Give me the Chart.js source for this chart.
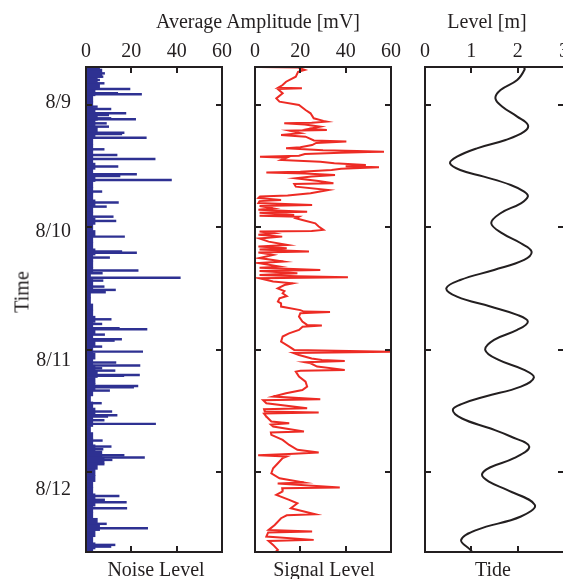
<!DOCTYPE html>
<html>
<head>
<meta charset="utf-8">
<script src="https://cdn.jsdelivr.net/npm/chart.js@4.4.0/dist/chart.umd.min.js"></script>
<style>
  body { margin: 0; width: 563px; height: 579px; overflow: hidden; background: #fff; position: relative; }
  canvas { position: absolute; top: 0; }
  .lbl { position: absolute; font: 20px "Liberation Serif", serif; color: #231f20; white-space: nowrap; transform: translate(-50%, -50%); }
</style>
</head>
<body>
<canvas id="noise" width="235" height="579" style="left:0px"></canvas>
<canvas id="signal" width="159" height="579" style="left:245px"></canvas>
<canvas id="tide" width="159" height="579" style="left:415px"></canvas>
<div class="lbl" style="left:258px; top:21px">Average Amplitude [mV]</div>
<div class="lbl" style="left:487px; top:21px">Level [m]</div>
<div class="lbl" style="left:156px; top:569px">Noise Level</div>
<div class="lbl" style="left:324px; top:569px">Signal Level</div>
<div class="lbl" style="left:493px; top:569px">Tide</div>
<div class="lbl" style="left:22px; top:292px; transform:translate(-50%,-50%) rotate(-90deg)">Time</div>
<script>
// time is in days after 8/9 00:00
const dayTicks = [0, 1, 2, 3];
const dayLabels = ['8/9', '8/10', '8/11', '8/12'];
const timeMin = -0.31;
const timeMax = 3.65;
// the date text in the original sits on a slightly stretched scale
const labelMin = -0.279;
const labelMax = 3.481;

// noise level: background level and spikes (mV)
const noiseBaseTimes = [
  -0.30, -0.25, -0.20, -0.15, -0.10, -0.05, 0.00, 0.05, 0.10, 0.15,
  0.20, 0.25, 0.30, 0.35, 0.40, 0.45, 0.50, 0.55, 0.60, 0.65,
  0.70, 0.75, 0.80, 0.85, 0.90, 0.95, 1.00, 1.05, 1.10, 1.15,
  1.20, 1.25, 1.30, 1.35, 1.40, 1.45, 1.50, 1.55, 1.60, 1.65,
  1.70, 1.75, 1.80, 1.85, 1.90, 1.95, 2.00, 2.05, 2.10, 2.15,
  2.20, 2.25, 2.30, 2.35, 2.40, 2.45, 2.50, 2.55, 2.60, 2.65,
  2.70, 2.75, 2.80, 2.85, 2.90, 2.95, 3.00, 3.05, 3.10, 3.15,
  3.20, 3.25, 3.30, 3.35, 3.40, 3.45, 3.50, 3.55, 3.60, 3.65
];
const noiseBaseValues = [
  6, 7, 5, 6, 4, 3, 3, 4, 5, 4,
  5, 4, 3, 3, 3, 3, 4, 3, 4, 3,
  3, 3, 4, 3, 3, 4, 3, 4, 3, 3,
  4, 3, 3, 3, 2, 3, 3, 2, 2, 3,
  3, 4, 3, 4, 3, 4, 3, 4, 3, 4,
  5, 4, 4, 3, 2, 3, 4, 3, 3, 2,
  3, 3, 4, 7, 8, 5, 4, 4, 3, 3,
  4, 4, 3, 3, 5, 6, 4, 3, 4, 3
];
const noiseSpikeTimes = [
  -0.286, -0.258, -0.231, -0.204, -0.177, -0.131, -0.095, -0.087, 0.014, 0.033,
  0.068, 0.082, 0.109, 0.117, 0.15, 0.177, 0.226, 0.237, 0.267, 0.362,
  0.408, 0.441, 0.503, 0.566, 0.58, 0.612, 0.707, 0.797, 0.83, 0.912,
  0.947, 1.075, 1.197, 1.206, 1.246, 1.352, 1.374, 1.41, 1.434, 1.483,
  1.51, 1.529, 1.75, 1.788, 1.823, 1.831, 1.875, 1.913, 1.924, 1.973,
  2.014, 2.103, 2.128, 2.15, 2.169, 2.204, 2.212, 2.294, 2.305, 2.332,
  2.435, 2.503, 2.533, 2.544, 2.574, 2.604, 2.74, 2.789, 2.811, 2.86,
  2.879, 2.898, 2.933, 3.192, 3.224, 3.244, 3.293, 3.42, 3.456, 3.592,
  3.606
];
const noiseSpikeValues = [
  7, 8.2, 7.5, 6, 8, 19.4, 14, 24.5, 5, 11,
  17.6, 10, 11, 21.9, 9, 10, 16.8, 15.8, 26.6, 8,
  13.7, 30.5, 14.1, 22.3, 15, 37.7, 7, 14.3, 9, 12,
  13.2, 17, 15.8, 22.3, 10.4, 23, 7.2, 41.6, 7.5, 8,
  13, 8.6, 11.1, 7, 14.7, 26.9, 8.2, 15.7, 12.5, 7,
  25, 13.2, 23.8, 7, 12.8, 23.6, 16.7, 22.9, 21, 10.4,
  6.8, 11.4, 13.7, 9.6, 8, 30.7, 7.2, 11.1, 7.5, 16.8,
  25.8, 11.5, 8, 14.6, 8.2, 17.8, 18, 9, 27.2, 12.8,
  11
];

// signal level (mV)
const signalTimes = [
  -0.31, -0.305, -0.286, -0.27, -0.231, -0.19, -0.163, -0.14, -0.136, -0.13,
  -0.095, -0.054, -0.027, 0, 0.041, 0.068, 0.109, 0.13, 0.136, 0.145,
  0.15, 0.16, 0.177, 0.195, 0.204, 0.21, 0.23, 0.245, 0.259, 0.29,
  0.299, 0.31, 0.327, 0.345, 0.354, 0.37, 0.375, 0.381, 0.385, 0.39,
  0.4, 0.415, 0.422, 0.43, 0.449, 0.463, 0.475, 0.49, 0.5, 0.509,
  0.52, 0.531, 0.545, 0.552, 0.56, 0.571, 0.585, 0.599, 0.62, 0.639,
  0.645, 0.667, 0.694, 0.721, 0.74, 0.748, 0.76, 0.776, 0.785, 0.8,
  0.816, 0.825, 0.844, 0.855, 0.871, 0.88, 0.898, 0.905, 0.912, 0.925,
  0.939, 0.966, 0.993, 1.02, 1.03, 1.034, 1.048, 1.06, 1.075, 1.09,
  1.116, 1.143, 1.155, 1.17, 1.18, 1.197, 1.205, 1.224, 1.25, 1.279,
  1.29, 1.32, 1.33, 1.347, 1.355, 1.375, 1.388, 1.398, 1.407, 1.415,
  1.442, 1.456, 1.47, 1.497, 1.52, 1.537, 1.56, 1.578, 1.605, 1.619,
  1.646, 1.675, 1.687, 1.69, 1.7, 1.728, 1.769, 1.796, 1.8, 1.81,
  1.837, 1.865, 1.891, 1.932, 1.973, 2.0, 2.014, 2.025, 2.041, 2.07,
  2.082, 2.09, 2.1, 2.109, 2.136, 2.163, 2.17, 2.177, 2.218, 2.259,
  2.299, 2.327, 2.354, 2.381, 2.403, 2.41, 2.435, 2.476, 2.485, 2.503,
  2.512, 2.52, 2.544, 2.585, 2.599, 2.61, 2.626, 2.667, 2.675, 2.694,
  2.735, 2.776, 2.816, 2.838, 2.85, 2.86, 2.87, 2.884, 2.925, 2.966,
  3.007, 3.048, 3.083, 3.09, 3.124, 3.13, 3.156, 3.184, 3.224, 3.252,
  3.293, 3.341, 3.35, 3.374, 3.429, 3.47, 3.483, 3.49, 3.524, 3.551,
  3.56, 3.592, 3.633, 3.65
];
const signalValues = [
  2, 19, 22, 19, 18, 13.7, 12.2, 10.1, 20.7, 10,
  12.2, 9.4, 10.8, 19.4, 22.3, 24.5, 25.9, 30.2, 31.7, 25,
  12.9, 22, 28.8, 24, 31.7, 15.1, 20, 11.5, 22.3, 26,
  40.3, 27, 25.2, 20, 13.7, 30, 45, 56.9, 50, 38,
  22, 19.4, 2.2, 14, 11.5, 28.8, 35, 48.9, 40, 54.7,
  38, 33.8, 20, 5, 22, 35.3, 25, 18, 28, 34.6,
  17.3, 18, 32.4, 24.5, 14.4, 2.2, 1.5, 11.5, 2, 1.5,
  25.2, 2, 8, 1.5, 23, 2, 17.3, 2, 19.4, 18,
  20.9, 26.6, 28.1, 30.2, 25, 2, 8, 1.5, 12, 2,
  6, 14.4, 1.5, 14, 2, 23.8, 1.5, 8, 2, 12.5,
  1.5, 10.8, 2, 28.8, 2, 18.7, 2, 18.7, 41, 2,
  8, 16.6, 13, 10, 13, 12.2, 14, 10.8, 10.1, 11.5,
  11.5, 20, 21.6, 33.1, 20, 19.4, 20.9, 23, 29.5, 21,
  19.4, 15, 12.2, 11.5, 15.1, 17.3, 59.8, 17, 19.4, 25,
  29.5, 39.6, 22, 24.5, 27.4, 39.6, 20, 18, 19.4, 22.3,
  23, 20.9, 13.7, 8, 28.8, 3.6, 5, 23, 4, 4.3,
  28.1, 4, 5, 7.2, 15.1, 7, 8, 21.6, 7, 7.2,
  12.2, 15.1, 18.7, 28.1, 15, 1.4, 14, 12.2, 10.1, 8,
  7.2, 10.8, 21.6, 10, 37.4, 12, 12.2, 9.4, 15.1, 18.7,
  15.8, 26.6, 14, 11.5, 8.7, 6, 25.2, 5.8, 5, 25.9,
  6, 8, 10.1, 9
];

// tide level (m)
const tideTimes = [
  -0.31, -0.29, -0.204, -0.122, -0.054, 0.014, 0.095, 0.163, 0.218, 0.286,
  0.354, 0.422, 0.476, 0.531, 0.585, 0.653, 0.707, 0.748, 0.803, 0.884,
  0.966, 1.048, 1.129, 1.197, 1.265, 1.347, 1.429, 1.497, 1.565, 1.646,
  1.714, 1.769, 1.837, 1.918, 2.0, 2.082, 2.163, 2.225, 2.3, 2.38,
  2.44, 2.49, 2.56, 2.64, 2.707, 2.789, 2.884, 2.96, 3.02, 3.08,
  3.143, 3.265, 3.36, 3.469, 3.551, 3.633, 3.65
];
const tideLevels = [
  2.13, 2.15, 1.99, 1.63, 1.52, 1.67, 1.99, 2.22, 2.14, 1.74,
  1.12, 0.69, 0.54, 0.76, 1.27, 1.85, 2.14, 2.22, 2.07, 1.63,
  1.43, 1.67, 2.07, 2.30, 2.14, 1.49, 0.76, 0.46, 0.69, 1.41,
  1.99, 2.22, 1.99, 1.49, 1.30, 1.59, 2.14, 2.35, 2.07, 1.30,
  0.80, 0.60, 0.80, 1.40, 1.85, 2.25, 1.92, 1.40, 1.23, 1.40,
  1.77, 2.37, 2.07, 1.12, 0.78, 0.98, 1.02
];

const ink = '#231f20';
const navy = '#2e3192';
const red = '#ed2b24';

Chart.defaults.font.family = '"Liberation Serif", serif';
Chart.defaults.font.size = 20;
Chart.defaults.color = ink;

// MATLAB style box with inward ticks on all sides
const boxPlugin = {
  id: 'box',
  afterDraw(chart) {
    const { ctx, chartArea: a, scales } = chart;
    ctx.save();
    ctx.strokeStyle = ink;
    ctx.lineWidth = 2;
    ctx.beginPath();
    scales.x.ticks.forEach(t => {
      const px = Math.round(scales.x.getPixelForValue(t.value));
      ctx.moveTo(px, a.top); ctx.lineTo(px, a.top + 6);
      ctx.moveTo(px, a.bottom); ctx.lineTo(px, a.bottom - 6);
    });
    scales.y.ticks.forEach(t => {
      const py = Math.round(scales.y.getPixelForValue(t.value));
      ctx.moveTo(a.left, py); ctx.lineTo(a.left + 6, py);
      ctx.moveTo(a.right, py); ctx.lineTo(a.right - 6, py);
    });
    ctx.stroke();
    ctx.strokeRect(a.left, a.top, a.right - a.left, a.bottom - a.top);
    ctx.restore();
  }
};

function panelOptions(xMax, xStep, leftPad) {
  return {
    responsive: false,
    animation: false,
    devicePixelRatio: 1,
    layout: { autoPadding: false, padding: { left: leftPad, right: 10, top: 0, bottom: 27 } },
    plugins: { legend: { display: false }, tooltip: { enabled: false } },
    scales: {
      x: {
        type: 'linear', position: 'top', min: 0, max: xMax, offset: false,
        grid: { display: false, drawTicks: false }, border: { display: false },
        ticks: { stepSize: xStep, padding: 3, maxRotation: 0, autoSkip: false },
        afterFit: s => { s.height = 67; }
      },
      y: {
        type: 'linear', reverse: true, min: timeMin, max: timeMax, offset: false,
        grid: { display: false, drawTicks: false }, border: { display: false },
        ticks: { display: false },
        afterBuildTicks: s => { s.ticks = dayTicks.map(v => ({ value: v })); },
        afterFit: s => { s.width = 0; }
      }
    }
  };
}

const noiseOpts = panelOptions(60, 20, 0);
noiseOpts.indexAxis = 'y';
noiseOpts.scales.dates = {
  type: 'linear', position: 'left', reverse: true, min: labelMin, max: labelMax, offset: false,
  grid: { display: false, drawTicks: false, offset: false }, border: { display: false },
  ticks: { padding: 15, callback: v => dayLabels[dayTicks.indexOf(v)] },
  afterBuildTicks: s => { s.ticks = dayTicks.map(v => ({ value: v })); },
  afterFit: s => { s.width = 86; }
};
new Chart(document.getElementById('noise'), {
  type: 'bar',
  data: {
    datasets: [
      {
        data: noiseBaseTimes.map((t, i) => ({ x: noiseBaseValues[i], y: t })),
        backgroundColor: navy, barThickness: 6.2, grouped: false
      },
      {
        data: noiseSpikeTimes.map((t, i) => ({ x: noiseSpikeValues[i], y: t })),
        backgroundColor: navy, barThickness: 1.8, grouped: false
      }
    ]
  },
  options: noiseOpts,
  plugins: [boxPlugin]
});

new Chart(document.getElementById('signal'), {
  type: 'scatter',
  data: {
    datasets: [{
      data: signalTimes.map((t, i) => ({ x: signalValues[i], y: t })),
      showLine: true, borderColor: red, borderWidth: 2, pointRadius: 0
    }]
  },
  options: panelOptions(60, 20, 10),
  plugins: [boxPlugin]
});

new Chart(document.getElementById('tide'), {
  type: 'scatter',
  data: {
    datasets: [{
      data: tideTimes.map((t, i) => ({ x: tideLevels[i], y: t })),
      showLine: true, borderColor: ink, borderWidth: 2, pointRadius: 0, tension: 0.4
    }]
  },
  options: panelOptions(3, 1, 10),
  plugins: [boxPlugin]
});
</script>
</body>
</html>
